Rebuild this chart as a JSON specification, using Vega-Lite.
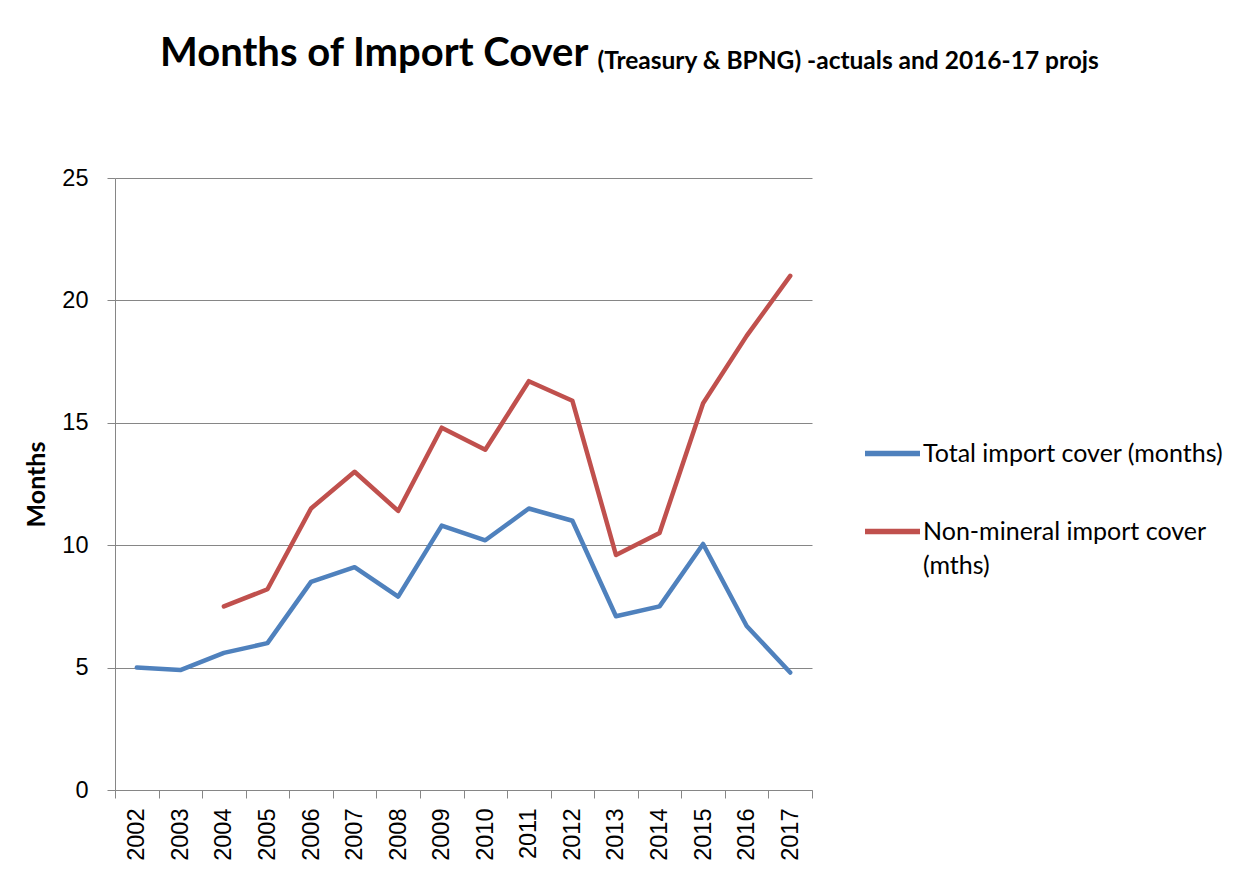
{
  "$schema": "https://vega.github.io/schema/vega-lite/v6.json",
  "width": 697,
  "height": 612,
  "autosize": {"type": "none"},
  "padding": {"left": 115, "top": 178, "right": 441, "bottom": 106},
  "background": "white",
  "config": {"view": {"stroke": null}, "style": {"guide-label": {"lineHeight": 34}}},
  "title": {
    "text": "Months of Import Cover",
    "anchor": "start",
    "frame": "group",
    "dx": 45,
    "offset": -58,
    "baseline": "alphabetic",
    "font": "Lato",
    "fontSize": 40,
    "fontWeight": "bold",
    "color": "black"
  },
  "data": {
    "values": [
      {"year": "2002", "series": "Total import cover (months)", "value": 5.0},
      {"year": "2003", "series": "Total import cover (months)", "value": 4.9},
      {"year": "2004", "series": "Total import cover (months)", "value": 5.6},
      {"year": "2005", "series": "Total import cover (months)", "value": 6.0},
      {"year": "2006", "series": "Total import cover (months)", "value": 8.5},
      {"year": "2007", "series": "Total import cover (months)", "value": 9.1},
      {"year": "2008", "series": "Total import cover (months)", "value": 7.9},
      {"year": "2009", "series": "Total import cover (months)", "value": 10.8},
      {"year": "2010", "series": "Total import cover (months)", "value": 10.2},
      {"year": "2011", "series": "Total import cover (months)", "value": 11.5},
      {"year": "2012", "series": "Total import cover (months)", "value": 11.0},
      {"year": "2013", "series": "Total import cover (months)", "value": 7.1},
      {"year": "2014", "series": "Total import cover (months)", "value": 7.5},
      {"year": "2015", "series": "Total import cover (months)", "value": 10.05},
      {"year": "2016", "series": "Total import cover (months)", "value": 6.7},
      {"year": "2017", "series": "Total import cover (months)", "value": 4.8},
      {"year": "2004", "series": "Non-mineral import cover (mths)", "value": 7.5},
      {"year": "2005", "series": "Non-mineral import cover (mths)", "value": 8.2},
      {"year": "2006", "series": "Non-mineral import cover (mths)", "value": 11.5},
      {"year": "2007", "series": "Non-mineral import cover (mths)", "value": 13.0},
      {"year": "2008", "series": "Non-mineral import cover (mths)", "value": 11.4},
      {"year": "2009", "series": "Non-mineral import cover (mths)", "value": 14.8},
      {"year": "2010", "series": "Non-mineral import cover (mths)", "value": 13.9},
      {"year": "2011", "series": "Non-mineral import cover (mths)", "value": 16.7},
      {"year": "2012", "series": "Non-mineral import cover (mths)", "value": 15.9},
      {"year": "2013", "series": "Non-mineral import cover (mths)", "value": 9.6},
      {"year": "2014", "series": "Non-mineral import cover (mths)", "value": 10.5},
      {"year": "2015", "series": "Non-mineral import cover (mths)", "value": 15.8},
      {"year": "2016", "series": "Non-mineral import cover (mths)", "value": 18.55},
      {"year": "2017", "series": "Non-mineral import cover (mths)", "value": 21.0}
    ]
  },
  "mark": {"type": "line", "strokeWidth": 4.5, "strokeCap": "round", "strokeJoin": "round"},
  "encoding": {
    "x": {
      "field": "year",
      "type": "ordinal",
      "bandPosition": 0.5,
      "scale": {"type": "band", "paddingInner": 0, "paddingOuter": 0},
      "axis": {
        "title": "(Treasury & BPNG) -actuals and 2016-17 projs",
        "titleX": 482,
        "titleY": -722,
        "titleAlign": "left",
        "titleBaseline": "alphabetic",
        "titleAngle": 0,
        "titleFont": "Lato",
        "titleFontSize": 24.5,
        "titleFontWeight": "bold",
        "titleColor": "black",
        "labelAngle": -90,
        "labelAlign": "right",
        "labelBaseline": "middle",
        "labelFont": "Liberation Sans",
        "labelFontSize": 23.5,
        "labelColor": "black",
        "labelPadding": 10,
        "tickBand": "extent",
        "tickSize": 8,
        "tickColor": "#868686",
        "domainColor": "#868686",
        "grid": false
      }
    },
    "y": {
      "field": "value",
      "type": "quantitative",
      "scale": {"domain": [0, 25], "nice": false},
      "axis": {
        "title": "Months",
        "values": [0, 5, 10, 15, 20, 25],
        "titleFont": "Lato",
        "titleFontSize": 25,
        "titleFontWeight": "bold",
        "titleColor": "black",
        "titlePadding": 12,
        "labelFont": "Liberation Sans",
        "labelFontSize": 23.5,
        "labelColor": "black",
        "labelPadding": 19,
        "tickSize": 8,
        "tickColor": "#868686",
        "domainColor": "#868686",
        "gridColor": "#868686",
        "gridWidth": 1
      }
    },
    "color": {
      "field": "series",
      "type": "nominal",
      "sort": ["Total import cover (months)", "Non-mineral import cover (mths)"],
      "scale": {
        "domain": ["Total import cover (months)", "Non-mineral import cover (mths)"],
        "range": ["#4F81BD", "#C0504D"]
      },
      "legend": {
        "title": null,
        "orient": "none",
        "legendX": 747,
        "legendY": 245,
        "symbolType": "stroke",
        "symbolSize": 3025,
        "symbolStrokeWidth": 5.5,
        "labelFont": "Lato",
        "labelFontSize": 25,
        "labelColor": "black",
        "labelOffset": 0,
        "labelLimit": 400,
        "rowPadding": 34,
        "labelExpr": "datum.label == 'Non-mineral import cover (mths)' ? ['Non-mineral import cover', '(mths)'] : datum.label"
      }
    }
  }
}
